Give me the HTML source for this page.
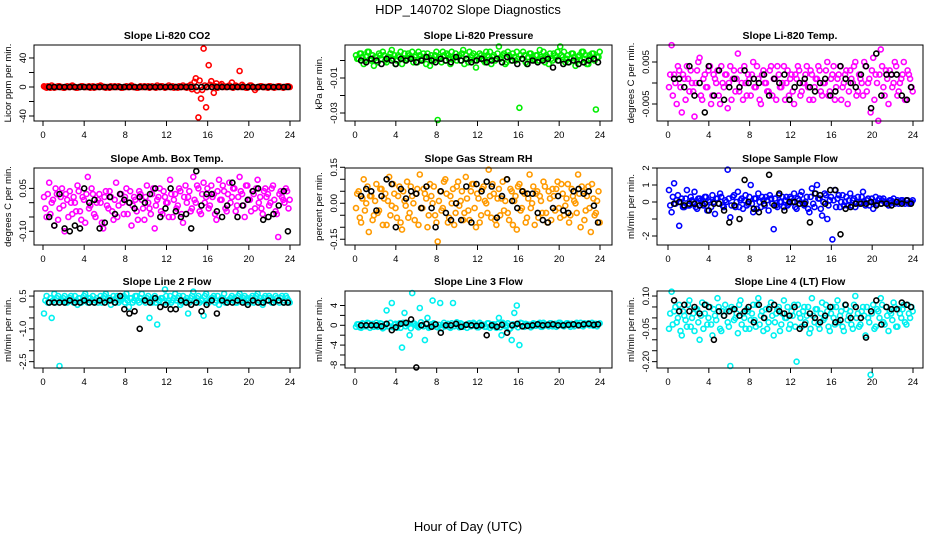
<!DOCTYPE html>
<html><head><meta charset="utf-8"><style>
html,body{margin:0;padding:0;background:#fff;}
svg{display:block;font-family:"Liberation Sans",Arial,sans-serif;}
</style></head><body>
<svg id="chart" width="936" height="540" viewBox="0 0 936 540" xmlns="http://www.w3.org/2000/svg">
<rect width="936" height="540" fill="#fff"/>
<text x="468" y="14" font-size="13" text-anchor="middle">HDP_140702  Slope Diagnostics</text>
<text x="468" y="531" font-size="13" text-anchor="middle">Hour of Day (UTC)</text>
<g id="panels"></g>
</svg>
<script>
const hours = [0.1,0.35,0.6,0.85,1.1,1.35,1.6,1.85,2.1,2.35,2.6,2.85,3.1,3.35,3.6,3.85,4.1,4.35,4.6,4.85,5.1,5.35,5.6,5.85,6.1,6.35,6.6,6.85,7.1,7.35,7.6,7.85,8.1,8.35,8.6,8.85,9.1,9.35,9.6,9.85,10.1,10.35,10.6,10.85,11.1,11.35,11.6,11.85,12.1,12.35,12.6,12.85,13.1,13.35,13.6,13.85,14.1,14.35,14.6,14.85,15.1,15.35,15.6,15.85,16.1,16.35,16.6,16.85,17.1,17.35,17.6,17.85,18.1,18.35,18.6,18.85,19.1,19.35,19.6,19.85,20.1,20.35,20.6,20.85,21.1,21.35,21.6,21.85,22.1,22.35,22.6,22.85,23.1,23.35,23.6,23.85];
const hours2 = [0.22,0.47,0.72,0.97,1.22,1.47,1.72,1.97,2.22,2.47,2.72,2.97,3.22,3.47,3.72,3.97,4.22,4.47,4.72,4.97,5.22,5.47,5.72,5.97,6.22,6.47,6.72,6.97,7.22,7.47,7.72,7.97,8.22,8.47,8.72,8.97,9.22,9.47,9.72,9.97,10.22,10.47,10.72,10.97,11.22,11.47,11.72,11.97,12.22,12.47,12.72,12.97,13.22,13.47,13.72,13.97,14.22,14.47,14.72,14.97,15.22,15.47,15.72,15.97,16.22,16.47,16.72,16.97,17.22,17.47,17.72,17.97,18.22,18.47,18.72,18.97,19.22,19.47,19.72,19.97,20.22,20.47,20.72,20.97,21.22,21.47,21.72,21.97,22.22,22.47,22.72,22.97,23.22,23.47,23.72,23.97];
const hoursBlack = [0.6,1.1,1.6,2.1,2.6,3.1,3.6,4.0,4.5,5.0,5.5,6.0,6.5,7.0,7.5,7.9,8.4,8.9,9.4,9.9,10.4,10.9,11.4,11.9,12.4,12.9,13.4,13.9,14.4,14.9,15.4,15.9,16.4,16.9,17.4,17.9,18.4,18.9,19.4,19.9,20.4,20.9,21.4,21.9,22.4,22.9,23.4,23.8];
const xTicks = [0,4,8,12,16,20,24];

const co2 = [1,-1,0,2,-1,0,1,0,-1,1,0,2,0,-1,0,1,0,0,-1,1,0,1,2,0,-1,0,1,0,0,1,-1,0,1,0,2,0,-1,0,0,1,0,-1,1,0,2,0,1,-1,0,0,1,0,-1,0,2,0,1,3,0,12,-42,-16,53,-28,30,8,-8,5,0,4,1,0,2,6,0,1,22,3,0,-1,2,0,-4,0,1,0,0,-1,1,0,0,1,0,-1,0,1];
const co2b = [0,1,-1,0,0,1,0,-1,0,0,1,0,-1,0,1,0,0,1,0,-1,0,0,1,0,0,-1,0,1,0,0,-1,0,0,1,0,0,-1,1,0,0,1,0,0,-1,0,1,0,0,2,0,-1,0,1,0,0,-1,1,-3,7,-5,9,-4,2,0,3,0,1,-1,2,0,0,1,0,-1,2,0,0,1,-1,0,2,0,-1,0,1,0,0,1,0,-1,0,1,0,0,1,0];
const co2Black = [0,0,0,0,0,0,0,0,0,0,0,0,0,0,0,0,0,0,0,0,0,0,0,0,0,0,0,0,0,0,0,0,0,0,0,0,0,0,0,0,0,0,0,0,0,0,0,0];
const pres = [0.003,0.001,0.004,-0.002,0.002,0.005,0.000,-0.003,0.002,0.004,0.001,0.003,-0.001,0.002,0.006,0.003,0.000,0.002,-0.002,0.004,0.001,0.003,0.005,0.002,-0.001,0.003,0.000,0.002,0.004,-0.003,0.001,0.003,-0.034,0.002,0.005,0.000,0.003,-0.002,0.001,0.004,0.002,0.000,0.006,0.003,-0.001,0.002,0.004,-0.004,0.001,0.003,0.000,0.005,0.002,-0.002,0.003,0.001,0.008,0.002,0.004,-0.001,0.003,0.000,0.002,0.005,-0.027,0.001,0.003,-0.002,0.004,0.002,0.000,0.003,0.006,0.001,-0.001,0.002,0.004,0.000,0.003,0.005,0.008,0.002,-0.001,0.003,0.001,0.004,-0.003,0.002,0.000,0.005,0.003,-0.002,0.001,0.004,-0.028,0.002];
const pres2 = [0.001,0.004,0.002,0.000,0.005,0.001,0.003,0.002,-0.001,0.003,0.005,0.000,0.002,0.004,0.001,-0.002,0.003,0.005,0.001,0.000,0.004,0.002,-0.001,0.003,0.005,0.001,0.004,-0.002,0.002,0.003,0.000,0.005,0.002,-0.001,0.003,0.004,0.001,0.005,0.002,0.000,0.003,0.004,-0.002,0.001,0.005,0.003,0.000,0.002,0.004,0.001,-0.001,0.003,0.005,0.002,0.000,0.004,0.001,0.003,-0.002,0.005,0.002,0.004,0.000,0.001,0.003,0.005,-0.001,0.002,0.004,0.001,0.003,0.000,0.002,0.005,0.003,-0.002,0.001,0.004,0.002,0.000,0.003,0.005,0.001,-0.001,0.004,0.002,0.000,0.003,0.005,0.001,-0.002,0.003,0.004,0.000,0.002,0.005];
const presBlack = [0.000,-0.001,0.001,0.000,-0.002,0.001,0.000,-0.002,0.001,0.000,0.001,-0.001,0.000,0.002,0.000,-0.001,0.001,0.000,-0.001,0.002,0.000,0.001,-0.001,0.000,0.001,-0.001,0.000,0.001,-0.001,0.002,0.000,-0.002,0.001,-0.002,0.000,-0.001,0.000,0.001,-0.004,0.000,-0.002,-0.001,0.000,-0.002,-0.001,0.000,0.001,-0.001];
const temp = [-0.001,0.009,0.002,-0.005,0.003,-0.007,0.001,0.004,-0.002,0.000,-0.008,0.003,0.006,-0.004,0.002,-0.001,0.004,-0.003,0.001,0.003,-0.005,0.000,0.002,-0.006,0.004,0.001,-0.002,0.007,0.003,-0.004,0.000,0.002,-0.003,0.005,-0.001,0.001,-0.005,0.003,0.000,-0.002,0.004,0.001,-0.004,0.002,-0.001,0.004,0.000,-0.003,0.002,-0.005,0.001,0.003,-0.002,0.000,0.004,-0.004,0.002,-0.001,0.001,0.003,-0.003,0.000,0.005,-0.002,0.002,-0.004,0.001,0.004,-0.001,0.002,-0.005,0.003,0.000,0.005,-0.002,0.001,-0.003,0.004,0.000,-0.007,0.006,0.002,-0.009,0.008,-0.001,0.003,-0.005,0.002,0.000,0.004,-0.002,0.001,0.005,-0.004,0.002,-0.001];
const temp2 = [0.002,-0.003,0.000,0.004,-0.001,0.002,-0.004,0.001,0.003,-0.002,0.000,0.005,-0.003,0.001,-0.001,0.003,-0.005,0.002,0.000,-0.003,0.004,-0.001,0.002,0.000,-0.004,0.003,0.001,-0.002,0.000,0.004,-0.003,0.001,0.002,-0.001,0.004,-0.004,0.002,0.000,-0.002,0.003,-0.003,0.001,0.004,-0.001,0.000,-0.004,0.003,0.001,-0.002,0.002,0.004,-0.003,0.000,0.002,-0.001,0.003,-0.004,0.001,0.004,-0.002,0.000,0.003,-0.003,0.001,0.004,-0.001,0.002,-0.004,0.000,0.003,-0.002,0.001,0.004,-0.003,0.002,0.000,0.005,-0.002,0.001,0.003,-0.004,0.000,0.002,0.004,-0.003,0.001,0.003,-0.001,0.005,-0.003,0.000,0.002,-0.004,0.003,0.001,-0.002];
const tempBlack = [0.001,0.001,-0.001,0.004,-0.003,0.000,-0.007,0.004,-0.003,0.003,-0.004,-0.001,0.001,-0.001,0.003,0.000,0.001,0.000,0.002,-0.003,0.001,0.000,0.002,-0.004,-0.001,0.000,0.001,-0.001,-0.002,0.000,0.001,-0.003,-0.002,0.004,0.001,0.000,-0.001,0.002,0.004,-0.006,0.007,-0.003,0.002,0.002,0.002,-0.003,-0.004,-0.001];
const amb = [0.02,-0.05,0.07,0.0,-0.08,0.03,-0.02,0.05,-0.10,0.01,0.04,-0.04,0.0,0.06,-0.03,0.02,-0.07,0.09,-0.01,0.03,-0.05,0.01,0.0,-0.09,0.04,-0.02,0.02,-0.06,0.07,-0.01,0.03,-0.04,0.05,0.0,-0.08,0.02,-0.03,0.04,0.01,-0.06,0.06,-0.02,0.03,-0.09,0.01,0.05,-0.04,0.02,0.0,0.08,-0.05,0.03,-0.01,0.04,-0.07,0.06,0.02,-0.03,0.09,0.0,0.05,-0.04,0.07,0.02,-0.02,0.06,0.03,-0.06,0.08,0.01,0.04,-0.03,0.07,0.02,0.05,-0.01,0.09,0.03,-0.05,0.06,0.01,0.04,-0.02,0.08,0.02,-0.04,0.05,0.03,0.0,0.06,-0.03,-0.12,0.04,0.01,0.05,-0.02];
const amb2 = [-0.02,0.03,-0.04,0.01,0.05,-0.06,0.02,-0.01,0.03,-0.05,0.00,0.02,-0.03,0.04,-0.06,0.01,0.03,-0.02,0.05,-0.04,0.00,0.03,-0.07,0.02,-0.01,0.04,-0.03,0.01,-0.05,0.03,0.00,0.02,-0.04,0.04,-0.01,0.01,-0.06,0.03,-0.02,0.02,0.00,-0.04,0.05,-0.01,0.02,-0.03,0.04,0.00,-0.05,0.03,0.01,-0.02,0.05,-0.04,0.02,0.00,0.04,-0.02,0.01,0.06,-0.03,0.03,0.00,0.05,-0.01,0.02,-0.04,0.04,0.01,0.06,-0.02,0.03,0.00,0.05,-0.03,0.02,0.04,-0.01,0.06,0.01,-0.03,0.03,0.05,0.00,-0.02,0.04,0.02,-0.01,0.05,0.01,-0.04,0.03,0.02,0.00,0.04,0.01];
const ambBlack = [-0.05,-0.08,0.03,-0.09,-0.10,-0.08,-0.09,0.05,0.00,0.01,-0.09,-0.07,0.02,-0.04,0.03,0.01,0.00,-0.02,0.02,0.00,0.03,0.05,-0.05,-0.02,0.05,-0.03,-0.05,-0.04,-0.09,0.11,-0.01,0.03,0.03,-0.03,-0.05,-0.01,0.07,-0.05,-0.01,0.01,0.04,0.05,-0.06,-0.05,-0.04,-0.01,0.04,-0.10];
const rh = [-0.02,0.05,-0.08,0.10,0.0,-0.12,0.03,-0.05,0.08,-0.03,0.06,0.02,-0.09,0.11,-0.01,0.04,-0.06,0.07,-0.11,0.01,0.09,-0.04,0.03,-0.07,0.06,0.12,-0.02,0.04,-0.10,0.08,0.0,-0.05,-0.16,0.05,-0.02,0.10,-0.08,0.03,0.06,-0.04,0.09,0.01,-0.07,0.11,-0.03,0.05,0.08,-0.10,0.02,-0.05,0.07,0.0,0.14,-0.06,0.04,-0.09,0.06,0.02,-0.03,0.10,-0.07,0.05,0.01,-0.11,0.08,-0.02,0.04,-0.06,0.12,0.0,-0.09,0.05,0.03,-0.04,0.07,-0.08,0.02,0.06,-0.03,0.09,-0.06,0.04,-0.01,0.08,-0.05,0.03,0.0,0.12,-0.10,0.05,-0.03,0.07,-0.12,0.02,-0.04,0.05];
const rh2 = [0.04,-0.06,0.02,-0.03,0.07,0.03,-0.07,0.01,-0.04,0.06,-0.09,0.04,0.01,-0.05,0.08,-0.02,0.03,-0.08,0.05,-0.01,-0.06,0.07,0.00,0.04,-0.09,-0.02,0.06,0.02,-0.05,0.03,0.07,-0.08,0.01,-0.03,0.09,0.04,-0.06,0.00,-0.09,0.07,-0.01,0.05,-0.04,0.02,-0.07,0.08,-0.02,0.04,-0.08,0.06,0.01,-0.04,0.03,0.08,-0.07,0.02,-0.05,0.09,0.01,-0.04,0.06,-0.09,0.03,0.07,-0.03,0.05,-0.08,0.02,-0.02,0.07,0.04,-0.06,0.01,0.09,-0.04,0.05,-0.07,0.03,0.06,-0.02,0.08,-0.05,0.02,-0.08,0.06,0.01,-0.04,0.04,0.07,-0.07,0.03,-0.02,0.08,-0.05,0.01,-0.08];
const rhBlack = [0.03,0.06,0.05,-0.03,0.03,0.10,0.08,-0.10,0.06,0.02,0.05,0.04,-0.02,0.07,-0.02,-0.10,0.05,-0.04,-0.07,0.00,-0.07,0.07,-0.08,0.08,0.05,0.09,0.07,-0.06,0.03,0.10,0.01,-0.02,0.05,0.04,0.04,-0.04,-0.07,-0.08,-0.02,0.03,-0.03,-0.04,0.05,0.06,0.04,0.05,-0.01,-0.08];
const sflow = [0.7,-0.6,1.1,0.1,-1.4,0.2,-0.3,0.7,-0.2,0.1,0.6,-0.4,0.2,-0.1,0.3,-0.5,0.0,0.4,-0.7,0.2,0.5,-0.2,0.1,1.9,-0.9,0.3,-0.3,0.6,0.1,-0.4,0.4,-0.1,1.0,-0.6,0.2,0.5,-0.3,0.1,0.3,-0.5,0.2,-1.6,-0.2,0.4,0.0,-0.3,0.3,-0.1,0.2,0.5,-0.4,0.1,0.6,-0.2,0.3,-0.6,0.8,-0.3,1.0,0.2,-0.8,0.5,-1.0,0.1,-2.2,0.7,0.2,-0.3,0.4,0.0,-0.2,0.5,0.1,-0.3,0.3,0.0,0.6,-0.2,0.2,0.0,-0.4,0.3,0.1,-0.1,0.2,0.0,-0.2,0.1,0.2,0.0,-0.1,0.1,0.0,0.1,-0.1,0.0];
const sflow2 = [-0.2,0.3,-0.1,0.4,0.0,-0.3,0.2,-0.2,0.3,0.0,-0.3,0.2,0.1,-0.2,0.3,0.1,-0.3,0.0,0.2,-0.1,0.3,-0.3,0.0,0.2,-0.2,0.4,0.0,-0.3,0.2,0.1,-0.2,0.3,-0.1,0.2,-0.4,0.0,0.3,-0.2,0.1,0.4,-0.1,0.2,-0.3,0.0,0.3,0.1,-0.2,0.3,0.0,-0.3,0.2,0.4,-0.1,0.0,-0.4,0.3,-0.1,0.5,0.2,-0.4,0.0,0.4,-0.2,0.3,0.1,-0.3,0.4,0.0,-0.2,0.3,0.1,-0.2,0.2,0.0,-0.1,0.3,0.0,0.1,-0.2,0.2,0.0,-0.1,0.2,0.1,0.0,-0.1,0.1,0.0,-0.1,0.1,0.0,0.1,-0.1,0.1,0.0,0.1];
const sflowBlack = [-0.1,0.0,-0.2,-0.1,-0.1,-0.2,-0.1,-0.5,-0.1,-0.1,-0.5,-1.2,-0.2,-1.0,1.3,0.0,-0.4,-0.6,-0.1,1.6,-0.2,0.5,-0.5,0.0,0.0,-0.1,-0.1,-1.2,0.5,0.4,-0.1,0.7,0.7,-1.9,-0.4,-0.3,-0.1,-0.1,-0.1,0.0,-0.2,-0.1,-0.1,-0.2,0.0,-0.1,0.1,-0.1];
const line2 = [-0.3,0.5,0.2,-0.5,0.6,0.4,-2.7,0.3,0.5,0.2,0.4,0.3,0.5,0.1,0.4,0.3,0.6,0.2,0.4,0.5,0.3,0.2,0.5,0.4,0.6,0.3,0.1,0.5,0.4,0.2,0.3,0.5,0.6,0.0,0.4,0.3,0.5,0.2,0.6,0.3,0.4,-0.5,0.2,0.5,-0.8,0.3,0.4,0.8,0.2,0.5,0.3,0.6,0.4,0.1,0.5,0.3,-0.3,0.4,0.7,0.2,0.5,0.3,-0.4,0.6,0.2,0.4,0.5,0.3,0.1,0.4,0.6,0.2,0.3,0.5,0.4,0.2,0.6,0.3,0.5,0.4,0.2,0.5,0.3,0.6,0.4,0.1,0.5,0.3,0.4,0.2,0.5,0.3,0.4,0.2,0.5,0.3];
const line2b = [0.3,0.2,0.4,0.3,0.2,0.5,0.3,0.4,0.2,0.3,0.5,0.2,0.3,0.4,0.2,0.5,0.3,0.4,0.3,0.2,0.4,0.3,0.2,0.5,0.3,0.4,0.3,0.2,0.5,0.3,0.4,0.2,0.3,0.4,0.2,0.5,0.3,0.4,0.3,0.2,0.5,0.3,0.4,0.2,0.3,0.4,0.2,0.5,0.3,0.2,0.4,0.3,0.5,0.2,0.3,0.4,0.2,0.5,0.3,0.4,0.2,0.3,0.5,0.2,0.3,0.4,0.2,0.5,0.3,0.4,0.2,0.3,0.4,0.3,0.2,0.5,0.3,0.4,0.2,0.3,0.4,0.2,0.5,0.3,0.2,0.4,0.3,0.5,0.2,0.3,0.4,0.2,0.5,0.3,0.4,0.2];
const line2Black = [0.2,0.2,0.2,0.2,0.3,0.2,0.2,0.3,0.2,0.2,0.3,0.2,0.3,0.2,0.5,-0.1,-0.3,-0.2,-1.0,0.3,0.2,0.4,0.0,0.1,-0.1,-0.1,0.3,0.2,0.1,0.2,-0.2,0.1,0.3,-0.3,0.3,0.2,0.2,0.3,0.2,0.1,0.3,0.2,0.2,0.3,0.2,0.3,0.2,0.2];
const line3 = [-0.3,0.2,-0.5,0.3,-0.2,0.4,0.0,-0.3,0.5,-0.1,0.3,-0.4,3.0,-0.2,4.5,0.1,-0.5,0.4,-4.5,2.5,0.2,-2.0,6.5,0.3,-0.2,3.5,0.1,-3.0,1.5,-0.3,5.0,0.2,-0.4,4.5,0.0,-0.2,0.3,-0.5,4.5,0.2,-0.1,0.4,-0.3,0.1,0.3,-0.2,0.5,0.0,-0.4,0.2,0.1,-0.3,0.4,-0.1,0.2,-0.5,1.5,-2.0,0.3,0.0,-0.8,-3.0,2.5,4.0,-4.0,0.4,-0.3,0.2,0.1,-0.2,0.3,0.0,0.5,-0.3,0.2,0.1,0.4,-0.2,0.3,0.0,0.5,-0.1,0.2,0.4,-0.3,0.1,0.3,0.0,0.5,-0.2,0.2,0.4,0.1,-0.1,0.3,0.2];
const line3b = [0.2,-0.4,0.4,-0.2,0.5,-0.5,0.3,0.0,-0.3,0.4,-0.6,0.2,-0.2,0.5,-0.4,0.3,0.0,-0.5,0.5,-0.2,0.3,-0.6,0.4,0.0,-0.4,0.6,-0.2,0.3,-0.5,0.2,0.4,-0.3,0.1,-0.6,0.5,0.0,-0.3,0.4,-0.2,0.6,-0.4,0.2,0.0,-0.5,0.4,-0.1,0.3,-0.4,0.5,0.0,-0.3,0.4,-0.5,0.2,0.0,0.3,-0.4,0.5,-0.2,0.4,-0.6,0.2,0.0,-0.4,0.5,-0.2,0.3,0.0,-0.4,0.4,-0.1,0.3,-0.3,0.5,0.0,-0.2,0.4,0.1,-0.3,0.5,0.2,-0.2,0.4,0.0,0.3,-0.2,0.5,0.1,-0.1,0.4,0.2,0.0,0.5,0.3,-0.2,0.4];
const line3Black = [0.0,0.0,0.0,0.0,-0.2,0.3,-1.0,-0.4,0.3,0.5,1.2,-8.5,0.0,0.3,-0.3,0.2,-1.5,0.0,0.0,0.3,-0.3,0.1,0.0,-0.1,0.0,-2.0,0.0,-0.3,0.1,-1.5,0.0,0.3,-0.2,-0.1,0.0,0.2,0.0,0.1,0.2,0.0,0.0,0.1,0.2,0.0,0.2,0.3,0.1,0.2];
const line4 = [-0.05,0.12,0.03,-0.02,0.06,-0.08,0.01,-0.04,0.08,0.00,-0.06,0.04,-0.10,0.07,0.02,-0.03,0.05,-0.08,0.01,0.09,-0.05,0.03,0.06,-0.02,-0.22,0.04,0.00,-0.07,0.08,0.02,-0.05,0.03,-0.01,0.06,-0.04,0.09,0.01,-0.06,0.04,-0.02,0.07,-0.08,0.02,0.05,-0.03,0.08,0.00,-0.05,0.03,0.06,-0.20,0.02,-0.04,0.05,0.01,-0.07,0.09,-0.02,0.04,-0.05,0.07,0.00,0.03,-0.06,0.05,-0.03,0.08,0.01,-0.04,0.06,-0.01,0.03,-0.05,0.10,0.02,-0.03,0.05,-0.08,0.00,-0.26,0.06,-0.04,0.03,0.09,-0.02,0.05,-0.06,0.02,0.07,-0.04,0.04,0.00,0.06,-0.03,0.02,0.05];
const line4b = [0.02,-0.03,0.05,0.00,-0.06,0.03,-0.01,0.06,-0.04,0.02,0.04,-0.02,0.01,-0.05,0.06,0.00,-0.03,0.04,-0.01,0.05,-0.06,0.01,0.03,-0.04,0.05,-0.01,0.02,0.06,-0.03,0.00,0.04,-0.05,0.02,-0.01,0.06,-0.03,0.03,0.00,-0.05,0.05,0.01,-0.02,0.04,-0.06,0.02,0.00,0.05,-0.03,0.01,-0.04,0.06,0.00,0.03,-0.02,0.05,-0.05,0.01,0.04,-0.03,0.02,-0.01,0.06,-0.04,0.02,0.00,0.05,-0.02,0.03,-0.06,0.04,0.01,-0.03,0.06,0.00,-0.04,0.03,0.01,0.05,-0.02,0.02,-0.05,0.04,0.00,0.06,-0.03,0.01,0.03,-0.01,0.05,-0.04,0.02,0.04,-0.02,0.06,0.00,0.03];
const line4Black = [0.08,0.03,0.06,0.03,0.05,0.02,0.06,0.05,-0.10,0.03,0.01,0.03,0.04,0.01,0.03,0.05,-0.02,0.06,0.00,0.04,0.06,0.03,0.02,0.01,0.05,-0.05,-0.03,0.02,0.00,-0.02,0.01,0.05,-0.02,-0.01,0.06,0.00,0.05,0.00,-0.09,0.03,0.08,-0.03,0.05,0.04,0.04,0.07,0.06,0.05];

const yTicksCo2 = [-40,-20,0,20,40], yLabCo2 = ['-40','','0','','40'];
const yTicksPres = [0,-0.01,-0.02,-0.03], yLabPres = ['','-0.01','','-0.03'];
const yTicksTemp = [-0.005,0,0.005], yLabTemp = ['-0.005','','0.005'];
const yTicksAmb = [-0.10,-0.05,0,0.05], yLabAmb = ['-0.10','','','0.05'];
const yTicksRh = [-0.15,-0.10,-0.05,0,0.05,0.10,0.15], yLabRh = ['-0.15','','','0.00','','','0.15'];
const yTicksSf = [-2,-1,0,1,2], yLabSf = ['-2','','0','1','2'];
const yTicksL2 = [0.5,0,-0.5,-1,-1.5,-2,-2.5], yLabL2 = ['0.5','','','-1.0','','','-2.5'];
const yTicksL3 = [4,2,0,-2,-4,-6,-8], yLabL3 = ['4','','0','','-4','','-8'];
const yTicksL4 = [0.10,0.05,0,-0.05,-0.10,-0.15,-0.20], yLabL4 = ['0.10','','','-0.05','','','-0.20'];

const NS = 'http://www.w3.org/2000/svg';
const root = document.getElementById('panels');
function mk(tag, attrs, parent){const e=document.createElementNS(NS,tag);for(const k in attrs)e.setAttribute(k,attrs[k]);(parent||root).appendChild(e);return e;}

const cols = [{bx0:34,bx1:300,x0:43,x24:290},{bx0:345,bx1:612,x0:355,x24:600},{bx0:657,bx1:923,x0:668,x24:913}];
const rows = [{top:45,bot:121},{top:168,bot:245},{top:291,bot:368}];

const panels = [
 {name:'co2',title:'Slope Li-820 CO2',ylab:'Licor ppm per min.',c:0,r:0,ymax:57.9,ymin:-46.9,vals:co2,vals2:co2b,blk:co2Black,col:'#ff0000',ticks:yTicksCo2,labs:yLabCo2},
 {name:'pressure',title:'Slope Li-820 Pressure',ylab:'kPa per min.',c:1,r:0,ymax:0.00886,ymin:-0.03457,vals:pres,vals2:pres2,blk:presBlack,col:'#00ee00',ticks:yTicksPres,labs:yLabPres},
 {name:'li820-temp',title:'Slope Li-820 Temp.',ylab:'degrees C per min.',c:2,r:0,ymax:0.00905,ymin:-0.00905,vals:temp,vals2:temp2,blk:tempBlack,col:'#ff00ff',ticks:yTicksTemp,labs:yLabTemp},
 {name:'amb-box-temp',title:'Slope Amb. Box Temp.',ylab:'degrees C per min.',c:0,r:1,ymax:0.1213,ymin:-0.148,vals:amb,vals2:amb2,blk:ambBlack,col:'#ff00ff',ticks:yTicksAmb,labs:yLabAmb},
 {name:'gas-stream-rh',title:'Slope Gas Stream RH',ylab:'percent per min.',c:1,r:1,ymax:0.147,ymin:-0.174,vals:rh,vals2:rh2,blk:rhBlack,col:'#ff9a00',ticks:yTicksRh,labs:yLabRh},
 {name:'sample-flow',title:'Slope Sample Flow',ylab:'ml/min per min.',c:2,r:1,ymax:2.0,ymin:-2.53,vals:sflow,vals2:sflow2,blk:sflowBlack,col:'#0000ff',ticks:yTicksSf,labs:yLabSf},
 {name:'line2-flow',title:'Slope Line 2 Flow',ylab:'ml/min per min.',c:0,r:2,ymax:0.73,ymin:-2.79,vals:line2,vals2:line2b,blk:line2Black,col:'#00f0f0',ticks:yTicksL2,labs:yLabL2},
 {name:'line3-flow',title:'Slope Line 3 Flow',ylab:'ml/min per min.',c:1,r:2,ymax:6.93,ymin:-8.63,vals:line3,vals2:line3b,blk:line3Black,col:'#00f0f0',ticks:yTicksL3,labs:yLabL3},
 {name:'line4-flow',title:'Slope Line 4 (LT) Flow',ylab:'ml/min per min.',c:2,r:2,ymax:0.123,ymin:-0.229,vals:line4,vals2:line4b,blk:line4Black,col:'#00f0f0',ticks:yTicksL4,labs:yLabL4}
];

panels.forEach(p=>{
  const C=cols[p.c], R=rows[p.r];
  const xs = h => C.x0 + (h/24)*(C.x24-C.x0);
  const ys = v => R.top + (p.ymax - v)/(p.ymax-p.ymin)*(R.bot-R.top);
  const g = mk('g',{});
  
  
  const t = mk('text',{x:(C.bx0+C.bx1)/2,y:R.top-6,'font-size':10.5,'font-weight':'bold','text-anchor':'middle'},g);
  t.textContent = p.title;
  
  
  const yl = mk('text',{x:0,y:0,'font-size':9.5,'text-anchor':'middle',transform:`translate(${C.bx0-23},${(R.top+R.bot)/2}) rotate(-90)`},g);
  yl.textContent = p.ylab;
  
  
  const pts = mk('g',{fill:'none','stroke-width':1.6},g);
  
  
  const n2 = Math.min(hours2.length,p.vals2.length);
  for(let i=0;i<n2;i++){
    const c = mk('circle',{cx:xs(hours2[i]).toFixed(1),cy:ys(p.vals2[i]).toFixed(1),r:2.5,stroke:p.col},pts);
    
    
  }
  const n = Math.min(hours.length,p.vals.length);
  for(let i=0;i<n;i++){
    const c = mk('circle',{cx:xs(hours[i]).toFixed(1),cy:ys(p.vals[i]).toFixed(1),r:2.5,stroke:p.col},pts);
    
    
  }
  const bpts = mk('g',{fill:'none','stroke-width':1.6,stroke:'#000'},g);
  
  
  const nb = Math.min(hoursBlack.length,p.blk.length);
  for(let i=0;i<nb;i++){
    const c = mk('circle',{cx:xs(hoursBlack[i]).toFixed(1),cy:ys(p.blk[i]).toFixed(1),r:2.5},bpts);
    
    
  }
  const box = mk('rect',{x:C.bx0,y:R.top,width:C.bx1-C.bx0,height:R.bot-R.top,fill:'none',stroke:'#000','stroke-width':1},g);
  
  
  const xa = mk('g',{},g);
  
  
  xTicks.forEach(h=>{
    mk('line',{x1:xs(h),x2:xs(h),y1:R.bot,y2:R.bot+5,stroke:'#000'},xa);
    const l = mk('text',{x:xs(h),y:R.bot+17,'font-size':9.5,'text-anchor':'middle'},xa);
    l.textContent = h;
  });
  const ya = mk('g',{},g);
  
  
  p.ticks.forEach((v,i)=>{
    const y = ys(v);
    mk('line',{x1:C.bx0-5,x2:C.bx0,y1:y,y2:y,stroke:'#000'},ya);
    if(p.labs[i]){
      const l = mk('text',{x:0,y:0,'font-size':9.5,'text-anchor':'middle',transform:`translate(${C.bx0-8},${y}) rotate(-90)`},ya);
      l.textContent = p.labs[i];
    }
  });
});
</script>
</body></html>
